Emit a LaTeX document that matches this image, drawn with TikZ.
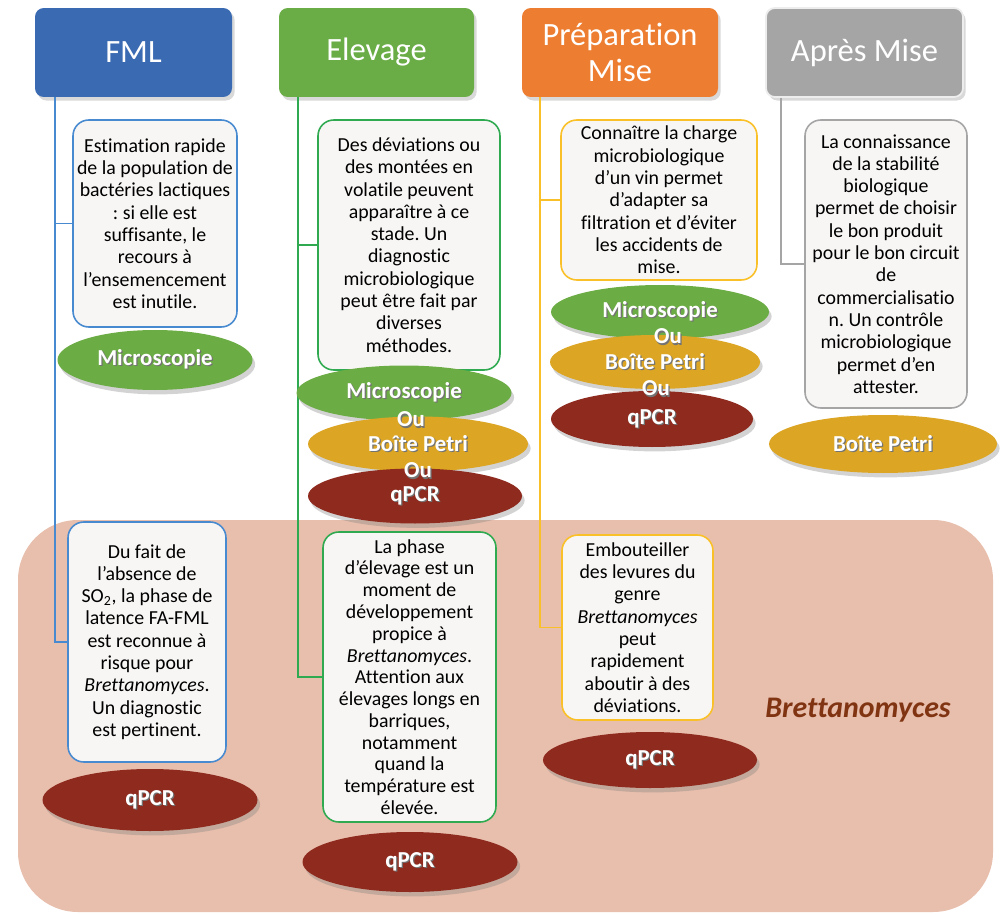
\documentclass[tikz,border=0pt]{standalone}
\usepackage{fontspec}
\setmainfont{Carlito}[Ligatures={NoCommon}]
\usetikzlibrary{shapes.geometric,shadows}
\frenchspacing

\definecolor{fmlblue}{RGB}{58,106,178}
\definecolor{elevgreen}{RGB}{106,172,70}
\definecolor{prepor}{RGB}{237,125,49}
\definecolor{apresgray}{RGB}{165,165,165}
\definecolor{fmlline}{RGB}{72,138,208}
\definecolor{elevline}{RGB}{48,170,80}
\definecolor{prepline}{RGB}{250,192,40}
\definecolor{boxfill}{RGB}{248,246,245}
\definecolor{microgreen}{RGB}{108,172,68}
\definecolor{petrigold}{RGB}{220,166,36}
\definecolor{pcrred}{RGB}{142,42,30}
\definecolor{brettbg}{RGB}{232,190,172}
\definecolor{bretttext}{RGB}{128,52,18}

\newcommand{\shtext}[1]{\makebox[0pt][l]{\kern0.7pt\raisebox{-0.7pt}{\textcolor{black!55}{#1}}}#1}

\begin{document}
\begin{tikzpicture}[x=0.02cm,y=-0.02cm,
  phase/.style n args={2}{fill=#1, rounded corners=5pt, minimum width=#2*0.02cm, minimum height=1.78cm, text=white, align=center, font=\fontsize{18.5}{20.5}\selectfont, drop shadow={opacity=.3,shadow xshift=1.5pt,shadow yshift=-2pt}},
  infobox/.style n args={3}{draw=#1, line width=0.9pt, fill=boxfill, rounded corners=9pt, minimum width=#2*0.02cm, minimum height=#3*0.02cm, inner sep=0pt, align=center, font=\fontsize{11.3}{12.7}\selectfont},
  method/.style n args={3}{ellipse, fill=#1, minimum width=#2*0.02cm, minimum height=#3*0.02cm, inner sep=0pt, text=white, font=\fontsize{13}{15}\selectfont\bfseries, drop shadow={opacity=.35,shadow xshift=1.5pt,shadow yshift=-2.5pt}},
  ou/.style={text=white, font=\fontsize{13}{15}\selectfont\bfseries},
  link/.style={draw=#1, line width=1.1pt}
]
\useasboundingbox (0,0) rectangle (1000,915);
\fill[brettbg, rounded corners=1.2cm] (18,520) rectangle (993,912);

\node[phase={fmlblue}{197}] (fml) at (133.5,52.5) {FML};
\node[phase={elevgreen}{195}] (elev) at (376.5,52.5) {Elevage};
\node[phase={prepor}{196}] (prep) at (620,52.5) {Préparation\\Mise};
\node[phase={apresgray}{197}, draw=white!80!apresgray, line width=1pt] (apres) at (864.5,52.5) {Après Mise};

\node[infobox={fmlline}{164}{207}] (fml1) at (155,223.5) {Estimation rapide\\de la population de\\bactéries lactiques\\: si elle est\\suffisante, le\\recours à\\l’ensemencement\\est inutile.};
\node[infobox={fmlline}{158}{240}] (fml2) at (147,642) {Du fait de\\l’absence de\\SO\textsubscript{2}, la phase de\\latence FA-FML\\est reconnue à\\risque pour\\\textit{Brettanomyces}.\\Un diagnostic\\est pertinent.};
\node[infobox={elevline}{182}{250}] (elev1) at (409,245) {Des déviations ou\\des montées en\\volatile peuvent\\apparaître à ce\\stade. Un\\diagnostic\\microbiologique\\peut être fait par\\diverses\\méthodes.};
\node[infobox={elevline}{173}{290}, font=\fontsize{11.3}{12.4}\selectfont] (elev2) at (409.5,677) {La phase\\d’élevage est un\\moment de\\développement\\propice à\\\textit{Brettanomyces}.\\Attention aux\\élevages longs en\\barriques,\\notamment\\quand la\\température est\\élevée.};
\node[infobox={prepline}{196}{160}] (prep1) at (659,200) {Connaître la charge\\microbiologique\\d’un vin permet\\d’adapter sa\\filtration et d’éviter\\les accidents de\\mise.};
\node[infobox={prepline}{151}{185}] (prep2) at (637.5,627.5) {Embouteiller\\des levures du\\genre\\\textit{Brettanomyces}\\peut\\rapidement\\aboutir à des\\déviations.};
\node[infobox={apresgray}{162}{288}] (apres1) at (886,264) {La connaissance\\de la stabilité\\biologique\\permet de choisir\\le bon produit\\pour le bon circuit\\de\\commercialisatio\\n. Un contrôle\\microbiologique\\permet d’en\\attester.};

\draw[link=fmlline] ([xshift=0.4cm]fml.south west) |- (fml2.west);
\draw[link=fmlline] (fml1.west) -| ([xshift=0.4cm]fml.south west);
\draw[link=elevline] ([xshift=0.38cm]elev.south west) |- (elev2.west);
\draw[link=elevline] (elev1.west) -| ([xshift=0.38cm]elev.south west);
\draw[link=prepline] ([xshift=0.36cm]prep.south west) |- (prep2.west);
\draw[link=prepline] (prep1.west) -| ([xshift=0.36cm]prep.south west);
\draw[link=apresgray] ([xshift=0.32cm]apres.south west) |- (apres1.west);

\node[method={microgreen}{195}{60}] (fmlmic) at (155,360) {\shtext{Microscopie}};
\node[method={pcrred}{215}{62}] (fmlpcr) at (150,800) {\shtext{qPCR}};

\node[method={microgreen}{215}{55}] (elevmic) at (404,393) {\shtext{Microscopie}};
\node[method={petrigold}{220}{55}] (elevpet) at (418,444) {\shtext{Boîte Petri}};
\node[method={pcrred}{214}{55}] (elevpcr) at (415,496) {\shtext{qPCR}};
\node[ou] (elevou1) at (411,420) {\shtext{Ou}};
\node[ou] (elevou2) at (418,471) {\shtext{Ou}};
\node[method={pcrred}{215}{60}] (elevpcrb) at (410,862) {\shtext{qPCR}};

\node[method={microgreen}{218}{54}] (prepmic) at (660,312) {\shtext{Microscopie}};
\node[method={petrigold}{210}{54}] (preppet) at (655,362) {\shtext{Boîte Petri}};
\node[method={pcrred}{202}{56}] (preppcr) at (652,419) {\shtext{qPCR}};
\node[ou] (prepou1) at (668,337) {\shtext{Ou}};
\node[ou] (prepou2) at (656,389) {\shtext{Ou}};
\node[method={pcrred}{214}{56}] (preppcrb) at (650,760) {\shtext{qPCR}};

\node[method={petrigold}{228}{58}] (aprespet) at (883,444) {\shtext{Boîte Petri}};

\node[text=bretttext, font=\fontsize{17}{20}\selectfont\bfseries\itshape] (brett) at (858,710) {Brettanomyces};
\end{tikzpicture}
\end{document}
